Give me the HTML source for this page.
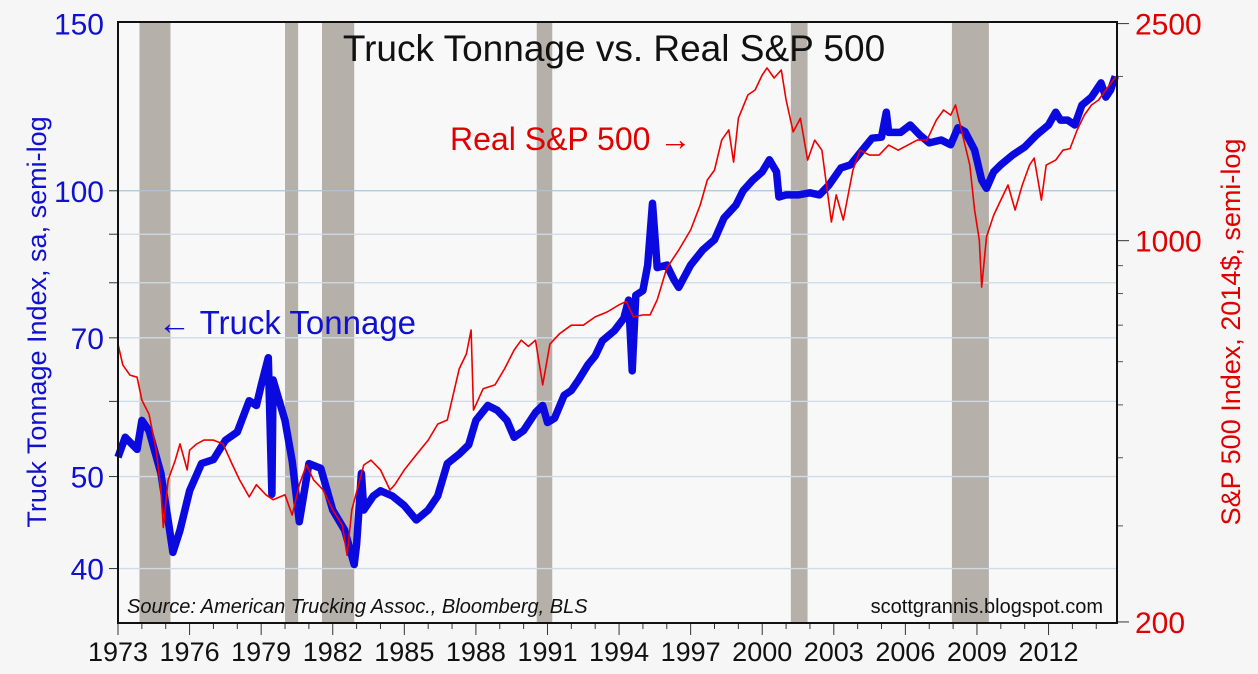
<!DOCTYPE html>
<html><head><meta charset="utf-8"><style>
html,body{margin:0;padding:0;background:#f6f6f6;}
svg{display:block;font-family:"Liberation Sans",sans-serif;}
</style></head><body>
<svg id="chart" width="1258" height="674" viewBox="0 0 1258 674" xmlns="http://www.w3.org/2000/svg">
<rect x="0" y="0" width="1258" height="674" fill="#f6f6f6"/>
<rect x="118" y="22" width="999" height="601" fill="#f8f8f8"/>
<g id="rec"></g><g id="grid"></g><g id="series"></g><g id="axes"></g>
<text x="614" y="61" text-anchor="middle" font-size="37" fill="#111">Truck Tonnage vs. Real S&amp;P 500</text>
<text x="450" y="150" font-size="32" fill="#e00000">Real S&amp;P 500 →</text>
<text x="158" y="334" font-size="33" fill="#1010d0">← Truck Tonnage</text>
<text x="127" y="613" font-size="20" font-style="italic" fill="#111">Source: American Trucking Assoc., Bloomberg, BLS</text>
<text x="1103" y="613" text-anchor="end" font-size="20" fill="#111">scottgrannis.blogspot.com</text>
<text transform="translate(46,322) rotate(-90)" text-anchor="middle" font-size="27" fill="#1010d0">Truck Tonnage Index, sa, semi-log</text>
<text transform="translate(1240,332) rotate(-90)" text-anchor="middle" font-size="27" fill="#e00000">S&amp;P 500 Index, 2014$, semi-log</text>
</svg>
<script>
const recessions=[[1973.9,1975.2],[1980.0,1980.55],[1981.55,1982.9],[1990.55,1991.2],[2001.2,2001.9],[2007.95,2009.5]];
const truckYears=[1973.0,1973.3,1973.8,1974.0,1974.3,1974.8,1975.1,1975.3,1975.6,1976.0,1976.5,1977.0,1977.5,1978.0,1978.5,1978.8,1979.0,1979.3,1979.45,1979.5,1980.0,1980.3,1980.6,1981.0,1981.5,1982.0,1982.5,1982.9,1983.0,1983.2,1983.3,1983.7,1984.0,1984.5,1985.0,1985.5,1986.0,1986.4,1986.8,1987.3,1987.7,1988.0,1988.5,1988.9,1989.3,1989.6,1990.0,1990.5,1990.8,1991.0,1991.3,1991.7,1992.0,1992.3,1992.7,1993.0,1993.3,1993.8,1994.2,1994.4,1994.55,1994.7,1995.0,1995.2,1995.4,1995.6,1996.0,1996.3,1996.5,1997.0,1997.5,1998.0,1998.4,1998.9,1999.2,1999.6,2000.0,2000.3,2000.6,2000.7,2001.0,2001.5,2002.0,2002.4,2002.8,2003.3,2003.7,2004.2,2004.6,2005.0,2005.2,2005.3,2005.8,2006.2,2006.6,2007.0,2007.5,2007.9,2008.2,2008.5,2008.9,2009.2,2009.4,2009.7,2010.0,2010.5,2011.0,2011.5,2012.0,2012.3,2012.5,2012.8,2013.1,2013.4,2013.8,2014.0,2014.2,2014.4,2014.6,2014.8];
const truckValues=[52.4,55.0,53.4,57.3,55.9,50.4,45.0,41.6,43.9,48.3,51.6,52.1,54.6,55.7,60.1,59.4,62.4,66.7,47.9,63.2,57.3,51.9,44.8,51.6,51.0,46.1,43.9,40.4,42.4,50.4,46.1,47.7,48.3,47.7,46.6,45.0,46.1,47.7,51.6,52.8,54.0,57.3,59.4,58.7,57.3,55.0,55.9,58.4,59.4,57.0,57.6,60.9,61.6,63.2,65.6,67.0,69.5,71.2,73.4,76.7,64.6,77.6,78.5,83.5,97.0,83.0,83.5,80.6,79.1,83.5,86.6,88.8,93.6,96.6,100.0,102.6,104.7,107.8,104.7,98.5,99.0,99.0,99.5,99.0,101.4,105.7,106.5,110.4,113.6,113.9,121.0,115.2,115.2,117.3,114.5,112.3,113.1,111.8,116.5,115.4,110.4,102.6,100.6,104.7,106.5,109.1,111.2,114.5,117.3,121.0,118.7,118.7,117.3,123.1,125.5,127.7,129.9,125.5,127.7,132.0];
const spYears=[1973.0,1973.2,1973.5,1973.8,1974.0,1974.3,1974.6,1974.8,1974.9,1975.1,1975.4,1975.6,1975.9,1976.0,1976.3,1976.6,1977.0,1977.4,1977.8,1978.1,1978.5,1978.8,1979.2,1979.5,1980.0,1980.3,1980.6,1980.9,1981.2,1981.6,1982.0,1982.4,1982.6,1982.8,1983.3,1983.6,1984.0,1984.4,1984.6,1985.0,1985.5,1986.0,1986.4,1986.8,1987.3,1987.6,1987.8,1987.9,1988.3,1988.8,1989.2,1989.6,1989.9,1990.2,1990.5,1990.8,1991.1,1991.5,1992.0,1992.5,1993.0,1993.5,1994.0,1994.3,1994.6,1995.0,1995.3,1995.6,1996.0,1996.5,1997.0,1997.4,1997.7,1998.0,1998.3,1998.6,1998.8,1999.0,1999.4,1999.7,2000.0,2000.2,2000.5,2000.8,2001.0,2001.3,2001.6,2001.9,2002.2,2002.5,2002.9,2003.1,2003.4,2003.8,2004.1,2004.5,2004.9,2005.3,2005.7,2006.1,2006.5,2006.9,2007.3,2007.6,2007.9,2008.1,2008.4,2008.7,2008.9,2009.1,2009.2,2009.4,2009.7,2010.0,2010.3,2010.6,2010.9,2011.2,2011.4,2011.7,2011.9,2012.3,2012.6,2012.9,2013.2,2013.5,2013.8,2014.1,2014.4,2014.7,2014.9];
const spValues=[646,592,567,562,510,481,413,349,298,364,396,424,380,413,424,431,431,424,388,364,339,357,342,335,342,314,357,388,364,349,321,301,265,321,388,396,380,349,357,380,405,431,461,469,582,620,686,489,535,544,582,630,657,640,657,544,646,675,700,700,725,740,763,774,725,731,731,779,891,961,1046,1162,1292,1347,1529,1596,1393,1677,1850,1889,2012,2074,1987,2055,1811,1583,1677,1405,1529,1465,1082,1213,1091,1347,1465,1435,1435,1497,1465,1497,1529,1529,1664,1736,1699,1773,1562,1376,1138,1003,822,1016,1114,1187,1265,1138,1265,1376,1417,1187,1376,1405,1465,1475,1596,1699,1773,1811,1889,1966,2012];
const leftTicks=[150,100,70,50,40];
const leftGrid=[100,90,80,70,60,50,40];
const rightTicks=[2500,1000,200];
const rightMinor=[2000,900,800,700,600,500,400,300];
const yearLabels=[1973,1976,1979,1982,1985,1988,1991,1994,1997,2000,2003,2006,2009,2012];

const X0=118,X1=1117,Y0=23.6,YB=623;
const NS='http://www.w3.org/2000/svg';
function xs(yr){return X0+(yr-1973)*23.86;}
function yl(v){return Y0+Math.log(150/v)*412.3;}
function yr(v){return Y0+Math.log(2500/v)*236.9;}
function mk(tag,attrs,parent){const e=document.createElementNS(NS,tag);for(const k in attrs)e.setAttribute(k,attrs[k]);document.getElementById(parent).appendChild(e);return e;}

recessions.forEach(r=>{
  const e=mk('rect',{x:xs(r[0]),y:22,width:xs(r[1])-xs(r[0]),height:YB-22,fill:'#b6b0aa'},'rec');
  
  
});
leftGrid.forEach(v=>{
  const e=mk('line',{x1:X0,x2:X1,y1:yl(v),y2:yl(v),stroke:v===100?'#a9c6dc':'#cfdbe6','stroke-width':1.3},'grid');
  
  
  const t=mk('line',{x1:X0-9,x2:X0,y1:yl(v),y2:yl(v),stroke:'#333','stroke-width':1},'axes');
  
  
});
leftTicks.forEach(v=>{
  const t=mk('text',{x:X0-14,y:yl(v)+11,'text-anchor':'end','font-size':30,fill:'#1010d0'},'axes');
  t.textContent=v;
  
  
});
rightMinor.forEach(v=>{
  const t=mk('line',{x1:X1,x2:X1+6,y1:yr(v),y2:yr(v),stroke:'#555','stroke-width':1},'axes');
  
  
});
rightTicks.forEach(v=>{
  const l=mk('line',{x1:X1,x2:X1+12,y1:yr(v),y2:yr(v),stroke:'#333','stroke-width':1},'axes');
  
  
  const t=mk('text',{x:X1+18,y:yr(v)+11,'font-size':30,fill:'#e00000'},'axes');
  t.textContent=v;
  
  
});
for(let y=1973;y<=2014;y++){
  const major=yearLabels.includes(y);
  const t=mk('line',{x1:xs(y),x2:xs(y),y1:YB,y2:YB+(major?12:6),stroke:'#333','stroke-width':1},'axes');
  
  
}
yearLabels.forEach(y=>{
  const t=mk('text',{x:xs(y),y:YB+38,'text-anchor':'middle','font-size':27,fill:'#111'},'axes');
  t.textContent=y;
  
  
});
const frame=mk('rect',{x:X0,y:22,width:X1-X0,height:YB-22,fill:'none',stroke:'#111','stroke-width':2},'axes');



const tp=truckYears.map((y,i)=>(i?'L':'M')+xs(y).toFixed(1)+','+yl(truckValues[i]).toFixed(1)).join('');
const sp=spYears.map((y,i)=>(i?'L':'M')+xs(y).toFixed(1)+','+yr(spValues[i]).toFixed(1)).join('');
const s1=mk('path',{d:tp,fill:'none',stroke:'#0a0ae0','stroke-width':7.5,'stroke-linejoin':'round'},'series');


const s2=mk('path',{d:sp,fill:'none',stroke:'#ee0000','stroke-width':1.6,'stroke-linejoin':'round'},'series');


</script>
</body></html>
